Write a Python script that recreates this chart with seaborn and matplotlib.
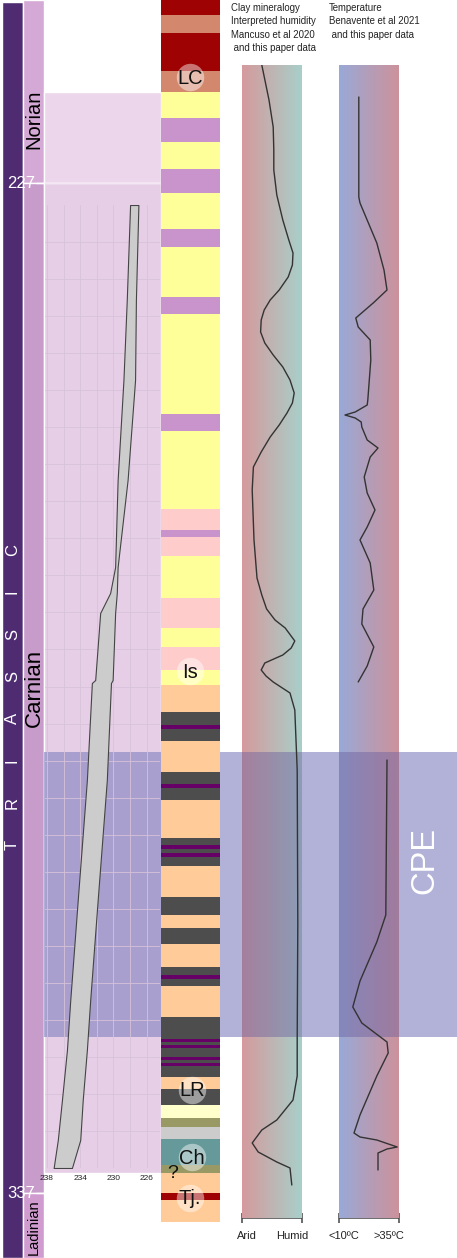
import numpy as np
import matplotlib
matplotlib.use("Agg")
import matplotlib.pyplot as plt
from matplotlib.colors import LinearSegmentedColormap
import seaborn as sns

sns.set_style("white")
plt.rcParams['font.family'] = ['Liberation Sans', 'DejaVu Sans']

W, H = 457, 1258  # figure size in px, vertical unit = px from top

# ---------------- data ----------------
stage_names = ["Norian", "Carnian", "Ladinian"]
stage_top = [0, 183, 1193]
stage_base = [183, 1193, 1258]
stage_colors = ["#d4a9d5", "#c79bca", "#d09bcf"]
stage_label_y = [119, 688, 1227]
stage_fontsize = [14.5, 16, 10.5]

boundary_labels = ["227", "337"]
boundary_y = [183, 1193]

# lithology log (bases of successive beds, top = previous base)
litho_base = [15, 33, 71, 92, 118, 142, 169, 193, 229, 247, 297, 314, 414, 431,
              509, 530, 537, 556, 598, 628, 647, 670, 685, 712, 725, 729, 741,
              772, 784, 788, 800, 838, 845, 849, 853, 857, 866, 897, 915, 928,
              944, 967, 975, 979, 986, 1017, 1039, 1042, 1045, 1048, 1057, 1060,
              1063, 1066, 1077, 1089, 1105, 1118, 1127, 1139, 1165, 1173, 1193,
              1200, 1222]
litho_unit = ["R", "S", "R", "S", "Y", "P", "Y", "P", "Y", "P", "Y", "P", "Y", "P",
              "Y", "K", "P", "K", "Y", "K", "Y", "K", "Y", "O", "G", "V", "G",
              "O", "G", "V", "G", "O", "G", "V", "G", "V", "G", "O", "G", "O",
              "G", "O", "G", "V", "G", "O", "G", "V", "G", "V", "G", "V",
              "G", "V", "G", "O", "G", "L", "A", "E", "T", "A", "O",
              "R", "O"]
litho_colors = {"R": "#9e0202", "S": "#d3886d", "Y": "#ffff99", "P": "#c994cb",
                "K": "#ffcccc", "O": "#ffcc99", "G": "#4d4d4d", "V": "#660066",
                "L": "#ffffcc", "A": "#999966", "E": "#cccccc", "T": "#669999"}

formation_labels = ["LC", "Is", "LR", "Ch", "Tj."]
formation_y = [77, 671, 1090, 1157, 1198]
formation_x = [0.49, 0.49, 0.53, 0.53, 0.49]

# age-range spindle (Ma) against log position
spindle_y = [205, 300, 380, 480, 567, 593, 613, 680, 683, 780, 900, 1000, 1050,
             1100, 1140, 1168]
spindle_old = [228.0, 228.4, 228.8, 229.5, 229.8, 230.4, 231.6, 232.2, 232.6,
               233.2, 234.3, 235.2, 235.6, 236.2, 236.7, 237.2]
spindle_young = [227.0, 227.3, 227.4, 228.3, 229.5, 229.6, 229.8, 230.1, 230.3,
                 230.8, 231.9, 232.8, 233.2, 233.7, 234.0, 235.0]
age_ticks = [238, 234, 230, 226]

# humidity (0 = arid, 1 = humid)
hum_y = [65, 100, 127, 150, 170, 195, 220, 240, 253, 265, 277, 290, 300, 310,
         320, 332, 343, 355, 367, 380, 393, 403, 413, 425, 437, 452, 467, 490,
         540, 578, 595, 609, 620, 628, 641, 648, 655, 663, 670, 676, 682, 693,
         710, 770, 923, 1038, 1076, 1100, 1120, 1130, 1143, 1152, 1162, 1168,
         1185]
hum_val = [0.33, 0.45, 0.52, 0.53, 0.53, 0.58, 0.68, 0.78, 0.85, 0.84, 0.77,
           0.62, 0.47, 0.37, 0.32, 0.31, 0.38, 0.52, 0.68, 0.80, 0.87, 0.84,
           0.75, 0.62, 0.47, 0.32, 0.19, 0.17, 0.20, 0.25, 0.33, 0.41, 0.55,
           0.72, 0.88, 0.82, 0.68, 0.38, 0.32, 0.40, 0.52, 0.80, 0.88, 0.92,
           0.93, 0.92, 0.92, 0.85, 0.58, 0.33, 0.17, 0.27, 0.58, 0.80, 0.83]

# temperature (0 = <10 C, 1 = >35 C)
temp1_y = [97, 197, 203, 243, 270, 290, 303, 318, 327, 340, 360, 400, 405, 412,
           415, 418, 422, 427, 440, 448, 457, 477, 493, 510, 527, 540, 563, 590,
           609, 624, 647, 666, 682]
temp1_val = [0.33, 0.33, 0.35, 0.63, 0.75, 0.80, 0.57, 0.28, 0.32, 0.52, 0.53,
             0.48, 0.47, 0.27, 0.10, 0.27, 0.37, 0.38, 0.47, 0.65, 0.52, 0.42,
             0.47, 0.60, 0.47, 0.35, 0.52, 0.58, 0.40, 0.38, 0.58, 0.47, 0.32]
temp2_y = [760, 915, 942, 981, 1007, 1023, 1042, 1053, 1076, 1115, 1133, 1137,
           1140, 1147, 1149, 1153, 1170]
temp2_val = [0.80, 0.78, 0.63, 0.35, 0.23, 0.38, 0.80, 0.82, 0.63, 0.35, 0.25,
             0.35, 0.63, 0.97, 0.80, 0.65, 0.65]

cpe_top, cpe_base = 752, 1037

BAND = "#7f7fbf"
LINE = "#333333"


def px_axes(x0, y0, x1, y1, **kw):
    a = fig.add_axes([x0 / W, 1 - y1 / H, (x1 - x0) / W, (y1 - y0) / H], **kw)
    return a


fig = plt.figure(figsize=(W / 100, H / 100), dpi=100)

# ---------------- frame (pixel axes) ----------------
ax = fig.add_axes([0, 0, 1, 1], zorder=0)
ax.set_xlim(0, W)
ax.set_ylim(H, 0)
ax.axis("off")

ax.bar(12.5, H - 2, bottom=2, width=21, color="#4f2c72", zorder=1)
ax.bar(33.5, np.subtract(stage_base, stage_top), bottom=stage_top, width=21,
       color=stage_colors, zorder=1)
for name, yy, fs in zip(stage_names, stage_label_y, stage_fontsize):
    ax.text(34, yy, name, rotation=90, ha="center", va="center", fontsize=fs,
            color="black", zorder=3)
for i, letter in enumerate("TRIASSIC"):
    ax.text(12.5, np.linspace(845, 550, 8)[i], letter, rotation=90, ha="center",
            va="center", fontsize=12, color="white", zorder=3)

# pink background of the age panel
ax.bar(102.5, 91, bottom=92, width=117, color="#ecd6eb", zorder=1)
ax.bar(102.5, 990, bottom=183, width=117, color="#e6cfe6", zorder=1)
for lab, yy in zip(boundary_labels, boundary_y):
    ax.text(35, yy, lab, ha="right", va="center", fontsize=12, color="white",
            zorder=3)
    ax.hlines(yy, 36, 44, color="white", lw=1, zorder=3)
ax.hlines(183, 44, 161, color="#f2e6f2", lw=1, zorder=2)

# CPE band
ax.fill_between([44, W], cpe_top, cpe_base, color=BAND, alpha=0.6, lw=0, zorder=4)
ax.text(425, 860, "CPE", rotation=90, ha="center", va="center", fontsize=23.5,
        color="white", zorder=5)

# column titles
ax.text(231, 3, "Clay mineralogy\nInterpreted humidity\nMancuso et al 2020\n and this paper data",
        ha="left", va="top", fontsize=6.9, linespacing=1.42, color="#222222")
ax.text(329, 3, "Temperature\nBenavente et al 2021\n and this paper data",
        ha="left", va="top", fontsize=6.9, linespacing=1.42, color="#222222")

# scale bars under the curve columns
for x0, x1, l0, l1 in [(242, 302, "Arid", "Humid"), (339, 399, "<10ºC", ">35ºC")]:
    ax.hlines(1218, x0, x1, color="#444444", lw=1.1)
    ax.vlines([x0, x1], 1213, 1223, color="#444444", lw=1.1)
    ax.text(x0 + 5, 1236, l0, ha="center", va="center", fontsize=8,
            color="#222222")
    ax.text(x1 - 10, 1236, l1, ha="center", va="center", fontsize=8,
            color="#222222")

# ---------------- age spindle ----------------
age_ax = px_axes(45, 205, 160, 1168, zorder=1)
age_ax.patch.set_alpha(0)
age_ax.set_xlim(238.24, 224.4)
age_ax.set_ylim(1168, 205)
age_ax.set_xticks(age_ticks)
age_ax.set_xticks([236, 232, 228], minor=True)
age_ax.set_yticks(np.linspace(205, 1168, 27)[1:-1])
age_ax.set_yticklabels([])
age_ax.tick_params(which="both", length=0, labelsize=6, pad=5, colors="#222222")
age_ax.grid(which="both", color="#d6c2d9", lw=0.6)
for s in age_ax.spines.values():
    s.set_visible(False)
age_ax.fill_betweenx(spindle_y, spindle_old, spindle_young, facecolor="#cccccc",
                     edgecolor="#444444", lw=0.8, zorder=3)

# ---------------- humidity and temperature columns ----------------
grad = np.linspace(0, 1, 256).reshape(1, -1)
col_specs = [
    (242, ["#d59a9d", "#a8cfc9"], [(hum_y, hum_val)]),
    (339, ["#99a9d7", "#cd929b"], [(temp1_y, temp1_val), (temp2_y, temp2_val)]),
]
for x0, cols, curves in col_specs:
    cax = px_axes(x0, 65, x0 + 60, 1218, zorder=2)
    cax.imshow(grad, extent=[0, 1, 1218, 65], aspect="auto",
               cmap=LinearSegmentedColormap.from_list("g", cols), zorder=0)
    cax.axhspan(cpe_top, cpe_base, color="#6b5f9e", alpha=0.45, lw=0, zorder=1)
    for cy, cv in curves:
        sns.lineplot(x=cv, y=cy, sort=False, estimator=None, orient="y",
                     color=LINE, lw=1, ax=cax, zorder=2)
    cax.set_xlim(0, 1)
    cax.set_ylim(1218, 65)
    cax.axis("off")

# ---------------- lithology log ----------------
lax = px_axes(161, 0, 220, 1222, zorder=3)
lax.set_xlim(0, 1)
lax.set_ylim(1222, 0)
tops = [0] + litho_base[:-1]
lax.bar(0.5, np.subtract(litho_base, tops), bottom=tops, width=1,
        color=[litho_colors[u] for u in litho_unit], lw=0)
lax.scatter(formation_x, formation_y, s=390, color="white", alpha=0.45, lw=0,
            zorder=3)
for lab, fx, fy in zip(formation_labels, formation_x, formation_y):
    lax.text(fx, fy + 1, lab, ha="center", va="center", fontsize=14.5,
             color="#111111", zorder=4)
lax.text(0.2, 1174, "?", ha="center", va="center", fontsize=14, color="#111111",
         zorder=4, clip_on=False)
lax.axis("off")

fig.savefig("out.png", dpi=100)
